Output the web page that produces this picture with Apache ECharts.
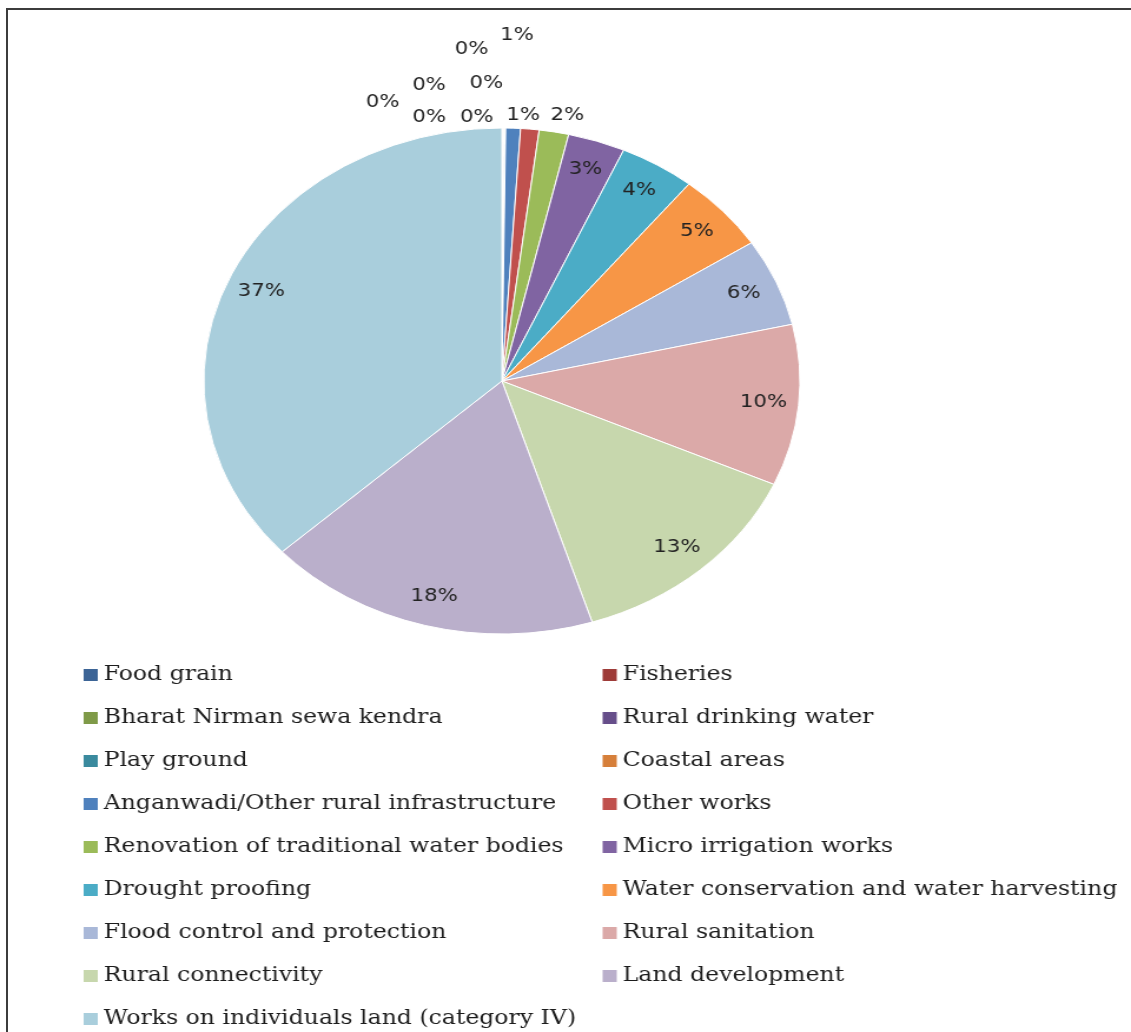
<!DOCTYPE html>
<html>
<head>
<meta charset="utf-8">
<script src="https://cdn.jsdelivr.net/npm/echarts@6/dist/echarts.min.js"></script>
<style>
html,body{margin:0;padding:0;background:#fff;}
#wrap{position:relative;width:1131px;height:1032px;overflow:hidden;background:#fff;}
#frame{position:absolute;left:6px;top:8px;right:-10px;bottom:-10px;border-top:2px solid #3c3c3c;border-left:2px solid #3c3c3c;}
#chart{position:absolute;left:0;top:0;width:960px;height:1032px;transform:scaleX(1.178125);transform-origin:0 0;}
</style>
</head>
<body>
<div id="wrap">
  <div id="frame"></div>
  <div id="chart"></div>
</div>
<script>
// ---- data (percent share of works) ----
const categories = [
  'Food grain', 'Fisheries',
  'Bharat Nirman sewa kendra', 'Rural drinking water',
  'Play ground', 'Coastal areas',
  'Anganwadi/Other rural infrastructure', 'Other works',
  'Renovation of traditional water bodies', 'Micro irrigation works',
  'Drought proofing', 'Water conservation and water harvesting',
  'Flood control and protection', 'Rural sanitation',
  'Rural connectivity', 'Land development',
  'Works on individuals land (category IV)'
];
const values = [
  0.05, 0.03,
  0.02, 0.04,
  0.03, 0.03,
  0.8, 1.0,
  1.6, 3.1,
  4.1, 5.0,
  5.6, 10.3,
  13.4, 18.1,
  36.8
];
const leftColumn = categories.filter((_, i) => i % 2 === 0);
const rightColumn = categories.filter((_, i) => i % 2 === 1);

// ---- styles ----
const palette = [
  '#3C6496', '#9E3B38', '#7F9A48', '#664E8A', '#3A8A9E', '#D67F3A',
  '#4F81BD', '#C0504D', '#9BBB59', '#8064A2', '#4BACC6', '#F79646',
  '#A9B8D8', '#DBA9A8', '#C7D7AD', '#BAAFCB', '#A9CEDC'
];
// small nudges for the crowded outside labels (index -> [dx, dy])
const smallLabelNudge = {
  0: [-36, -11], 1: [-77, -11], 2: [-117, -26], 3: [-78, -43],
  4: [-30, -45], 5: [-43, -79], 6: [-11, -93], 7: [-20, -14], 8: [-3, -17]
};
const R = 253, CX = 426, CY = 381;

const total = values.reduce((a, b) => a + b, 0);
const pieData = categories.map((n, i) => ({ name: n, value: values[i] }));
const labelData = categories.map((n, i) => {
  const pct = values[i] / total * 100;
  return pct < 2.5
    ? { name: n, value: values[i], label: { position: 'outside' } }
    : { name: n, value: values[i] };
});

const chart = echarts.init(document.getElementById('chart'), null, { renderer: 'canvas' });
const legendText = { fontFamily: 'DejaVu Serif', fontSize: 20, color: '#1c1c1c', lineHeight: 22 };
const legendBase = {
  orient: 'vertical', top: 664, padding: 0, itemWidth: 12, itemHeight: 12, itemGap: 21,
  icon: 'rect', selectedMode: false, textStyle: legendText,
  itemStyle: { borderWidth: 0 }
};
chart.setOption({
  animation: false,
  backgroundColor: 'transparent',
  color: palette,
  legend: [
    Object.assign({}, legendBase, { left: 71, data: leftColumn }),
    Object.assign({}, legendBase, { left: 511.5, data: rightColumn })
  ],
  series: [
    {
      type: 'pie', name: 'Works', radius: R, center: [CX, CY],
      startAngle: 90, clockwise: true, avoidLabelOverlap: false,
      label: { show: false }, labelLine: { show: false },
      itemStyle: { borderColor: '#ffffff', borderWidth: 1 },
      emphasis: { disabled: true },
      data: pieData
    },
    {
      type: 'pie', name: 'Labels', radius: [0.74 * R, R], center: [CX, CY],
      startAngle: 90, clockwise: true, avoidLabelOverlap: false, silent: true,
      itemStyle: { color: 'rgba(0,0,0,0)', borderWidth: 0 },
      emphasis: { disabled: true },
      label: {
        show: true, position: 'inside', distanceToLabelLine: 0,
        formatter: p => Math.round(p.percent) + '%',
        fontFamily: 'DejaVu Sans', fontSize: 18, color: '#222222'
      },
      labelLine: { show: false, length: 0, length2: 0 },
      labelLayout: function (p) {
        const n = smallLabelNudge[p.dataIndex];
        return n ? { dx: n[0], dy: n[1] } : {};
      },
      data: labelData
    }
  ]
});
</script>
</body>
</html>
